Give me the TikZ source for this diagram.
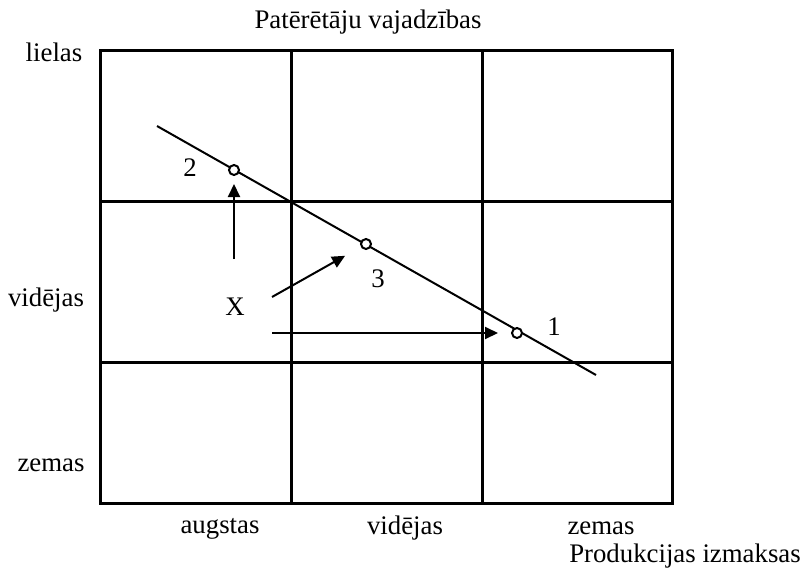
\documentclass[tikz,border=0pt]{standalone}
\usepackage{fontspec}
\setmainfont{Liberation Serif}
\usepackage{tikz}
\usetikzlibrary{arrows.meta}

\begin{document}
\begin{tikzpicture}[x=0.5pt,y=-0.5pt,
gridline/.style={line width=1.5pt},
pt/.style={draw,circle,fill=white,inner sep=0pt,minimum size=5pt,line width=1pt},
mv/.style={line width=1pt,-{Triangle[length=6.5pt,width=6pt]}},
lbl/.style={anchor=base,inner sep=0pt,font=\fontsize{13.4}{15}\selectfont}]
\useasboundingbox (0,0) rectangle (803,568);
% matrix
\draw[gridline](100,50) rectangle (672,503);
\draw[gridline](100,201)--(672,201) (100,362)--(672,362);
\draw[gridline](291,50)--(291,503) (482,50)--(482,503);
% line
\coordinate (la) at (157,126);
\coordinate (lb) at (596,375);
\draw[line width=1pt](la)--(lb);
\node[pt] (p2) at (234,170) {};
\node[pt] (p3) at (366,244) {};
\node[pt] (p1) at (517,333) {};
% moves from X
\coordinate (s2) at (234,259);
\coordinate (s3) at (272,297);
\coordinate (s1) at (272,333);
\draw[mv,shorten >=4pt](s2)--(p2);
\draw[mv,shorten >=9pt](s3)--(p3);
\draw[mv,shorten >=6.5pt](s1)--(p1);
\node[lbl] (n2) at (190,176) {2};
\node[lbl] (n3) at (378,287) {3};
\node[lbl] (n1) at (554,335) {1};
\node[lbl] (nx) at (235,315) {X};
% axes text
\node[lbl] (top) at (368,28) {Patērētāju vajadzības};
\node[lbl] (y1) at (54,61) {lielas};
\node[lbl] (y2) at (46,306) {vidējas};
\node[lbl] (y3) at (51,471) {zemas};
\node[lbl] (x1) at (220,533) {augstas};
\node[lbl] (x2) at (405,534) {vidējas};
\node[lbl] (x3) at (601,534) {zemas};
\node[lbl] (bot) at (685,562) {Produkcijas izmaksas};
\end{tikzpicture}
\end{document}
